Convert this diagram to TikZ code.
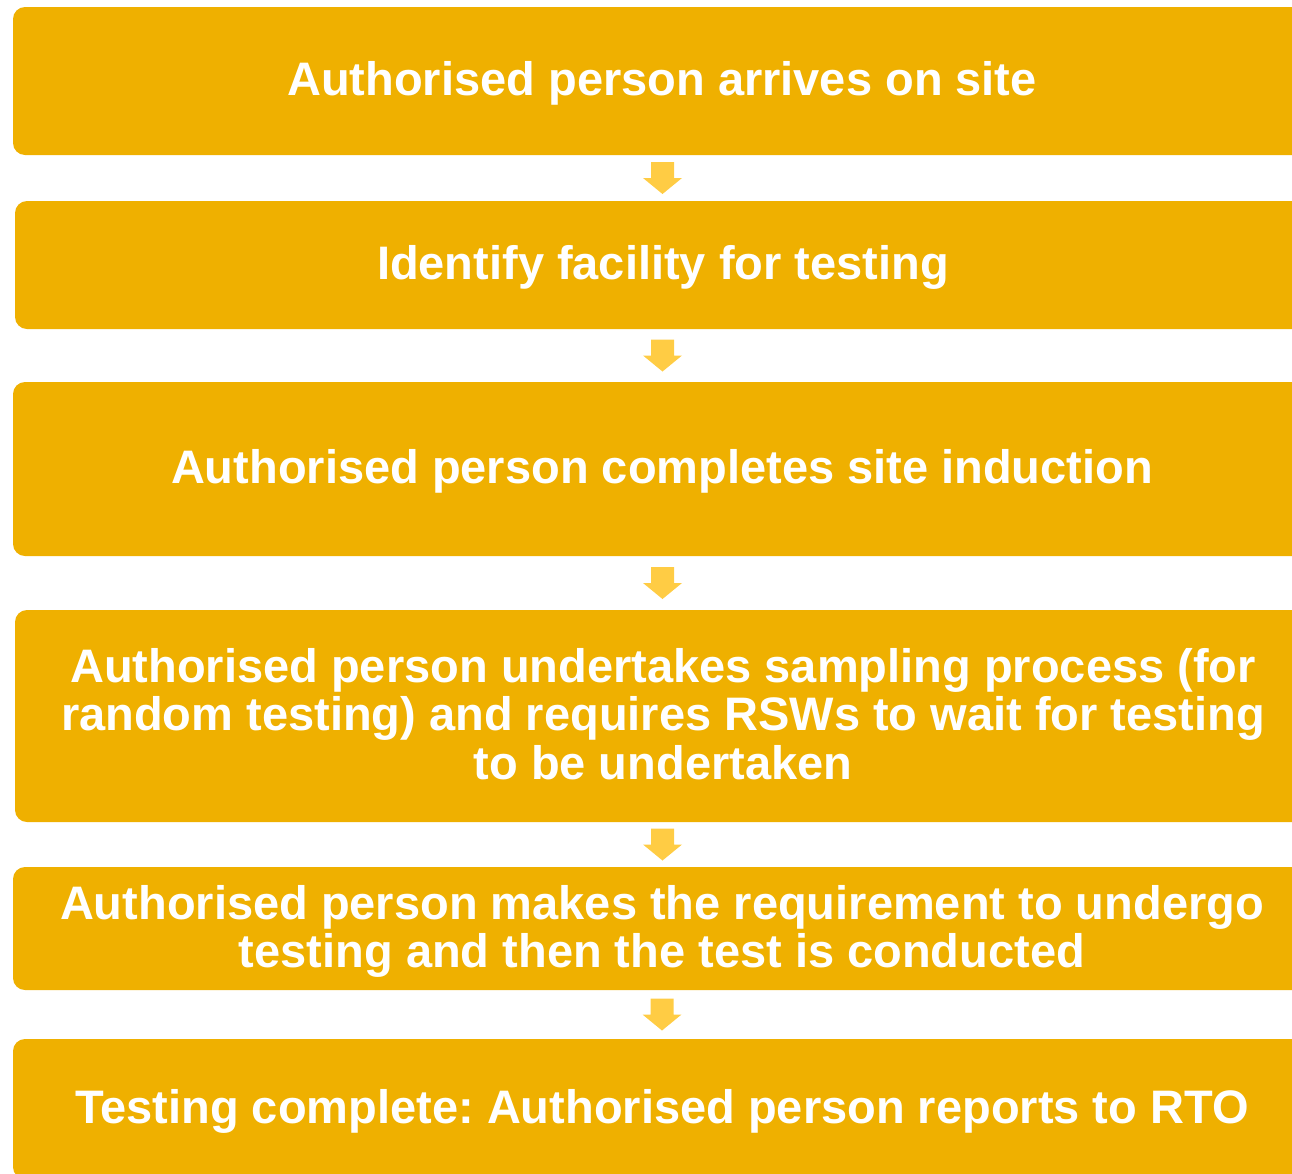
\documentclass[tikz,border=0pt]{standalone}
\usepackage{fontspec}
\setmainfont{Liberation Sans}
\usetikzlibrary{calc}
\frenchspacing
\definecolor{boxcol}{RGB}{239,176,0}
\definecolor{arrcol}{RGB}{255,204,68}
\newcommand{\boxtxt}[1]{\raisebox{-5pt}[\height][\depth]{\begin{tabular}{@{}c@{}}#1\end{tabular}}}
\tikzset{
  flowbox/.style={rectangle, rounded corners=12pt, fill=boxcol, text=white, inner sep=0pt,
    font=\fontsize{47}{48}\selectfont\bfseries\frenchspacing, align=center},
  downarrow/.pic={\fill[arrcol] (-11.5,-16) -- (11.5,-16) -- (11.5,0) -- (19.5,0) -- (0,16) -- (-19.5,0) -- (-11.5,0) -- cycle;}
}
\begin{document}
\begin{tikzpicture}[x=1pt,y=-1pt]
\useasboundingbox (0,0) rectangle (1292,1173);
\clip (0,0) rectangle (1292,1173);
\node[flowbox, minimum width=1298pt, minimum height=148pt] (b1) at (662,81) {\boxtxt{Authorised person arrives on site}};
\node[flowbox, minimum width=1296pt, minimum height=128pt] (b2) at (663,265) {\boxtxt{Identify facility for testing}};
\node[flowbox, minimum width=1298pt, minimum height=174pt] (b3) at (662,469) {\boxtxt{Authorised person completes site induction}};
\node[flowbox, minimum width=1296pt, minimum height=212pt] (b4) at (663,716) {\boxtxt{Authorised person undertakes sampling process (for\\random testing) and requires RSWs to wait for testing\\to be undertaken}};
\node[flowbox, minimum width=1298pt, minimum height=123pt] (b5) at (662,928.5) {\boxtxt{Authorised person makes the requirement to undergo\\testing and then the test is conducted}};
\node[flowbox, minimum width=1298pt, minimum height=140pt] (b6) at (662,1109) {\boxtxt{Testing complete: Authorised person reports to RTO}};
\foreach \a/\b/\m in {b1/b2/m1,b2/b3/m2,b3/b4/m3,b4/b5/m4,b5/b6/m5}{
  \path (\a.south) -- (\b.north) coordinate[midway] (\m);
  \pic at (\m) {downarrow};
}
\end{tikzpicture}
\end{document}
